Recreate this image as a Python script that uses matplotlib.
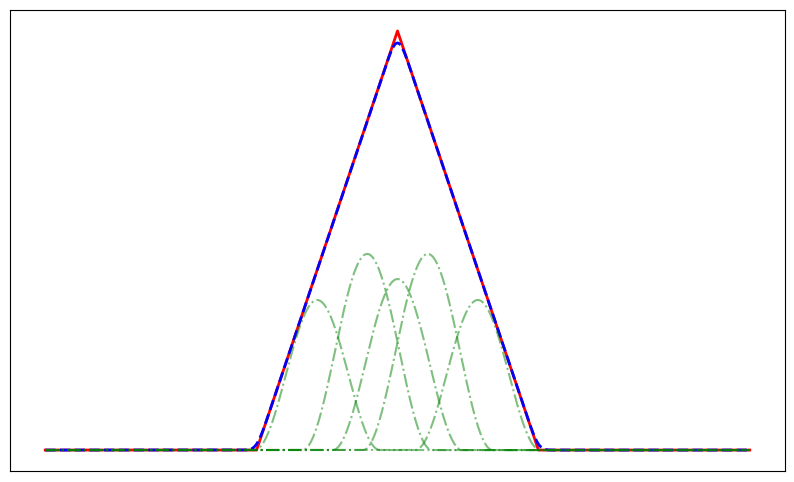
import numpy as np
import matplotlib
matplotlib.use("Agg")
import matplotlib.pyplot as plt

# triangle target (red)
tri_x = [0.0, 0.3, 0.5, 0.7, 1.0]
tri_y = [0.0, 0.0, 1.0, 0.0, 0.0]

# smoothing width of the blue approximation
smooth_sigma = 0.0072

# bump components (green): centres, heights, half support
bump_c = [0.386, 0.457, 0.5, 0.543, 0.614]
bump_h = [0.358, 0.468, 0.408, 0.468, 0.358]
bump_w = [0.089, 0.092, 0.092, 0.092, 0.089]

x = np.linspace(0, 1, 2001)
y_tri = np.interp(x, tri_x, tri_y)

# blue: triangle smoothed with a small gaussian kernel
dx = x[1] - x[0]
k = np.arange(-60, 61) * dx
kern = np.exp(-0.5 * (k / smooth_sigma) ** 2)
kern /= kern.sum()
y_smooth = np.convolve(y_tri, kern, mode='same')

fig = plt.figure(figsize=(7.94, 4.82), dpi=100)
ax = fig.add_axes([10 / 794, 11 / 482, 775 / 794, 461 / 482])

ax.plot(x, y_tri, color='red', lw=2)
ax.plot(x, y_smooth, color='blue', ls='--', lw=2)
for c, h, w in zip(bump_c, bump_h, bump_w):
    d = np.abs(x - c)
    yb = np.where(d < w, h * np.cos(np.pi * d / (2 * w)) ** 2, 0.0)
    ax.plot(x, yb, color='green', ls='-.', lw=1.5, alpha=0.5)

ax.set_xticks([])
ax.set_yticks([])

fig.savefig("out.png", dpi=100)
